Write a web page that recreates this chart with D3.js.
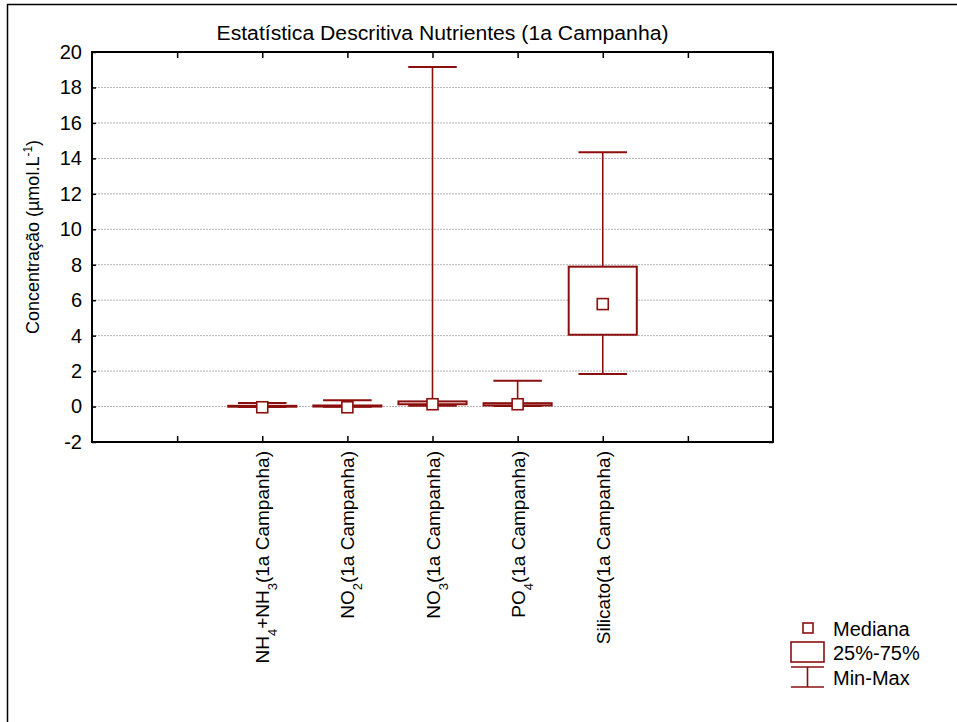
<!DOCTYPE html>
<html>
<head>
<meta charset="utf-8">
<script src="https://cdn.jsdelivr.net/npm/d3@7"></script>
<style>
  body { margin: 0; background: #fff; }
  svg { font-family: "Liberation Sans", Arial, sans-serif; }
</style>
</head>
<body>
<div id="chart"></div>
<script>
// category labels: [text, subscript] pieces
const categories = [
  [['NH', ''], ['4', 'sub'], ['+NH', ''], ['3', 'sub'], ['(1a Campanha)', '']],
  [['NO', ''], ['2', 'sub'], ['(1a Campanha)', '']],
  [['NO', ''], ['3', 'sub'], ['(1a Campanha)', '']],
  [['PO', ''], ['4', 'sub'], ['(1a Campanha)', '']],
  [['Silicato(1a Campanha)', '']]
];
const minValues    = [-0.02, -0.01, 0.05, 0.03, 1.83];
const q1Values     = [-0.01, 0.00, 0.13, 0.06, 4.05];
const medianValues = [-0.04, -0.04, 0.13, 0.13, 5.78];
const q3Values     = [0.04, 0.06, 0.29, 0.19, 7.89];
const maxValues    = [0.20, 0.35, 19.15, 1.46, 14.35];
const yTicks = [-2, 0, 2, 4, 6, 8, 10, 12, 14, 16, 18, 20];
const xTicks = [1, 2, 3, 4, 5, 6, 7];

const W = 957, H = 722;
const margin = { top: 52, right: 184, bottom: 280, left: 92 };
const width = W - margin.left - margin.right;
const height = H - margin.top - margin.bottom;
const red = '#8b0f0f';

const svg = d3.select('#chart')
  .append('svg')
  .attr('width', W)
  .attr('height', H);

// outer frame
svg.append('rect')
  .attr('x', 7.5).attr('y', 4.5)
  .attr('width', W + 20).attr('height', H + 20)
  .attr('fill', 'none')
  .attr('stroke', '#000')
  .attr('stroke-width', 1.5);

const g = svg.append('g')
  .attr('transform', `translate(${margin.left}, ${margin.top})`);

const x = d3.scaleLinear().domain([0, 8]).range([0, width]);
const y = d3.scaleLinear().domain([-2, 20]).range([height, 0]);

// grid lines
g.selectAll('.grid')
  .data(yTicks.filter(d => d > -2 && d < 20))
  .join('line')
  .attr('x1', 0).attr('x2', width)
  .attr('y1', d => y(d)).attr('y2', d => y(d))
  .attr('stroke', '#b4b4b4')
  .attr('stroke-width', 1)
  .attr('stroke-dasharray', '2,1');

// y axis
g.append('g')
  .style('font-size', '20px')
  .call(d3.axisLeft(y).tickValues(yTicks).tickSize(-4).tickPadding(10).tickFormat(d => String(d)))
  .call(a => a.select('.domain').remove())
  .call(a => a.selectAll('.tick line').attr('stroke', '#000').attr('stroke-width', 1.5))
  .call(a => a.selectAll('.tick text').attr('fill', '#000'));

// right inner ticks
g.append('g')
  .attr('transform', `translate(${width}, 0)`)
  .call(d3.axisRight(y).tickValues(yTicks).tickSize(-4).tickFormat(''))
  .call(a => a.select('.domain').remove())
  .call(a => a.selectAll('.tick line').attr('stroke', '#000').attr('stroke-width', 1.5));

// top and bottom inner ticks
g.append('g')
  .attr('transform', `translate(0, ${height})`)
  .call(d3.axisBottom(x).tickValues(xTicks).tickSize(-6).tickFormat(''))
  .call(a => a.select('.domain').remove())
  .call(a => a.selectAll('.tick line').attr('stroke', '#000').attr('stroke-width', 1.5));
g.append('g')
  .call(d3.axisTop(x).tickValues(xTicks).tickSize(-6).tickFormat(''))
  .call(a => a.select('.domain').remove())
  .call(a => a.selectAll('.tick line').attr('stroke', '#000').attr('stroke-width', 1.5));

// plot frame
g.append('rect')
  .attr('width', width).attr('height', height)
  .attr('fill', 'none')
  .attr('stroke', '#000')
  .attr('stroke-width', 2);

// boxes
const step = x(1) - x(0);
const boxW = step * 0.8;
const capW = step * 0.57;
const medS = 11;
const data = categories.map((c, i) => ({
  i, pos: i + 2,
  min: minValues[i], q1: q1Values[i], med: medianValues[i], q3: q3Values[i], max: maxValues[i]
}));

const box = g.selectAll('.box')
  .data(data)
  .join('g')
  .attr('transform', d => `translate(${x(d.pos)}, 0)`);

box.append('line')
  .attr('x1', 0).attr('x2', 0)
  .attr('y1', d => y(d.min)).attr('y2', d => y(d.max))
  .attr('stroke', red).attr('stroke-width', 1.6);

box.append('rect')
  .attr('x', -boxW / 2)
  .attr('y', d => y(d.q3))
  .attr('width', boxW)
  .attr('height', d => Math.max(y(d.q1) - y(d.q3), 0))
  .attr('fill', '#fff')
  .attr('stroke', red).attr('stroke-width', 2);

box.selectAll('.cap')
  .data(d => [d.min, d.max])
  .join('line')
  .attr('x1', -capW / 2).attr('x2', capW / 2)
  .attr('y1', v => y(v)).attr('y2', v => y(v))
  .attr('stroke', red).attr('stroke-width', 2);

box.append('rect')
  .attr('x', -medS / 2)
  .attr('y', d => y(d.med) - medS / 2)
  .attr('width', medS).attr('height', medS)
  .attr('fill', '#fff')
  .attr('stroke', red).attr('stroke-width', 1.6);

// category labels
const lab = g.selectAll('.cat')
  .data(categories)
  .join('text')
  .attr('text-anchor', 'end')
  .attr('transform', (d, i) => `translate(${x(i + 2) + 7}, ${height + 9}) rotate(-90)`)
  .style('font-size', '19px');
lab.each(function (parts) {
  const t = d3.select(this);
  parts.forEach(p => {
    const s = t.append('tspan').text(p[0]);
    if (p[1] === 'sub') s.attr('baseline-shift', 'sub').style('font-size', '13px');
  });
});

// title
svg.append('text')
  .attr('x', margin.left + width / 2 + 10)
  .attr('y', 40)
  .attr('text-anchor', 'middle')
  .style('font-size', '20px')
  .attr('textLength', 452)
  .attr('lengthAdjust', 'spacingAndGlyphs')
  .text('Estatística Descritiva Nutrientes (1a Campanha)');

// y label
const yl = svg.append('text')
  .attr('text-anchor', 'middle')
  .attr('transform', `translate(39, 237) rotate(-90)`)
  .style('font-size', '18px');
yl.append('tspan').text('Concentração (µmol.L');
yl.append('tspan').text('-1').attr('baseline-shift', 'super').style('font-size', '12px');
yl.append('tspan').text(')');

// legend
const leg = svg.append('g').attr('transform', 'translate(791, 0)');
leg.append('rect')
  .attr('x', 12).attr('y', 623).attr('width', 10).attr('height', 10)
  .attr('fill', '#fff').attr('stroke', red).attr('stroke-width', 1.6);
leg.append('rect')
  .attr('x', 0).attr('y', 642).attr('width', 33).attr('height', 20)
  .attr('fill', '#fff').attr('stroke', red).attr('stroke-width', 1.6);
leg.append('line').attr('x1', 0).attr('x2', 33).attr('y1', 667).attr('y2', 667)
  .attr('stroke', red).attr('stroke-width', 1.6);
leg.append('line').attr('x1', 0).attr('x2', 33).attr('y1', 687).attr('y2', 687)
  .attr('stroke', red).attr('stroke-width', 1.6);
leg.append('line').attr('x1', 16.5).attr('x2', 16.5).attr('y1', 667).attr('y2', 687)
  .attr('stroke', red).attr('stroke-width', 1.6);
const legText = ['Mediana', '25%-75%', 'Min-Max'];
const legY = [636, 660, 685];
leg.selectAll('.lt')
  .data(legText)
  .join('text')
  .attr('x', 42)
  .attr('y', (d, i) => legY[i])
  .style('font-size', '20px')
  .text(d => d);
</script>
</body>
</html>
